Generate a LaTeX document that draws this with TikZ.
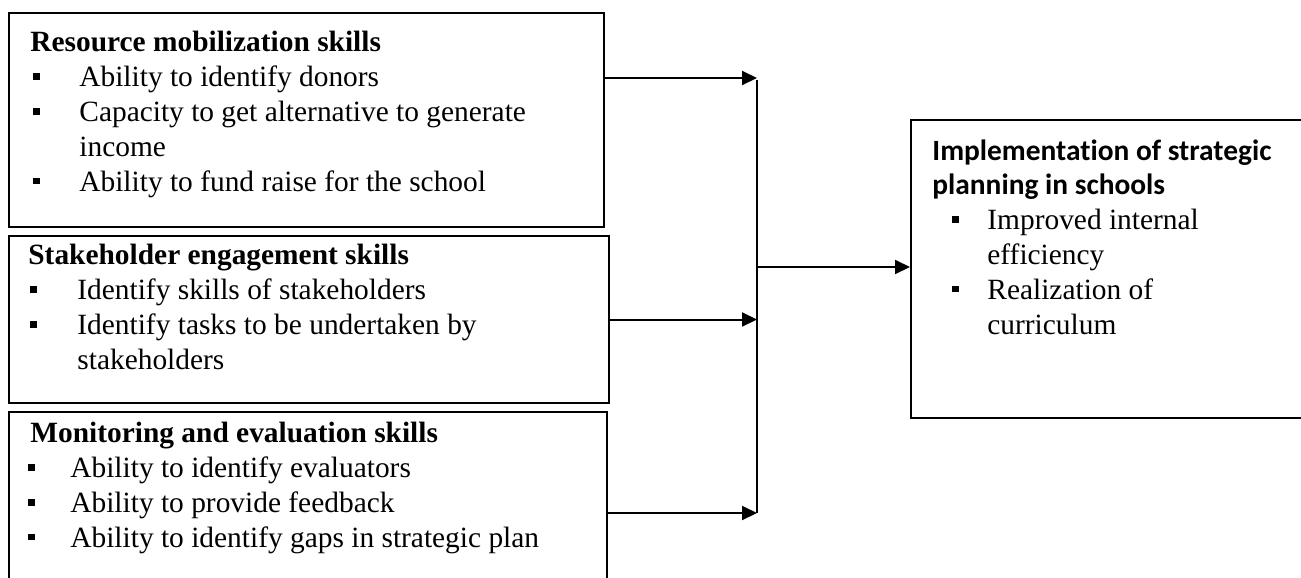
\documentclass[tikz,border=0pt]{standalone}
\usepackage{fontspec}
\setmainfont{Liberation Serif}
\newfontfamily\calibrifont{Carlito}[Ligatures=NoCommon]
\usetikzlibrary{arrows.meta}
\newcommand{\bsq}{\raisebox{3.4pt}{\rule{3.2pt}{3.2pt}}}
% bullet: #1 = offset of the square, #2 = indent of the item text
\newcommand{\bul}[2]{\makebox[#2][l]{\hspace*{#1}\bsq}}
\newcommand{\cont}[1]{\hspace*{#1}}
\begin{document}
\begin{tikzpicture}[x=0.5pt,y=-0.5pt,
  box/.style={draw,line width=1pt,inner sep=0pt,anchor=north west},
  txt/.style={anchor=north west,inner sep=0pt,align=left,font=\fontsize{14.7}{17.4}\selectfont},
  arr/.style={line width=1pt,-{Triangle[length=7.5pt,width=7pt]}},
  ln/.style={line width=1pt}]
\useasboundingbox (0,0) rectangle (1301,578);
% boxes
\node[box,minimum width=297.5pt,minimum height=107pt] (b1) at (8,12) {};
\node[box,minimum width=300pt,minimum height=83.5pt] (b2) at (8,235) {};
\node[box,minimum width=299pt,minimum height=86pt] (b3) at (8,411) {};
\node[box,minimum width=200pt,minimum height=149pt] (rb) at (910,119) {};
% texts
\node[txt] (t1) at (30,31) {\textbf{Resource mobilization skills}\\
\bul{1.5pt}{24.5pt}Ability to identify donors\\
\bul{1.5pt}{24.5pt}Capacity to get alternative to generate\\
\cont{24.5pt}income\\
\bul{1.5pt}{24.5pt}Ability to fund raise for the school};
\node[txt] (t2) at (28,244) {\textbf{Stakeholder engagement skills}\\
\bul{1pt}{24.5pt}Identify skills of stakeholders\\
\bul{1pt}{24.5pt}Identify tasks to be undertaken by\\
\cont{24.5pt}stakeholders};
\node[txt] (t3) at (30,422) {\textbf{Monitoring and evaluation skills}\\
\bul{-1pt}{20pt}Ability to identify evaluators\\
\bul{-1pt}{20pt}Ability to provide feedback\\
\bul{-1pt}{20pt}Ability to identify gaps in strategic plan};
\node[txt] (tr) at (932,139) {{\calibrifont\bfseries Implementation of strategic}\\
{\calibrifont\bfseries planning in schools}\\
\bul{10pt}{27.5pt}Improved internal\\
\cont{27.5pt}efficiency\\
\bul{10pt}{27.5pt}Realization of\\
\cont{27.5pt}curriculum};
% connectors
\coordinate (j1) at (757,78);
\coordinate (j3) at (757,513);
\coordinate (jo) at (758,267);
\draw[arr] (b1.east |- j1) -- (j1);
\draw[arr] (b2.east) -- (b2.east -| j1);
\draw[arr] (b3.east |- j3) -- (j3);
\draw[ln] (757,80) -- (j3);
\draw[arr] (jo) -- (rb.west |- jo);
\end{tikzpicture}
\end{document}
